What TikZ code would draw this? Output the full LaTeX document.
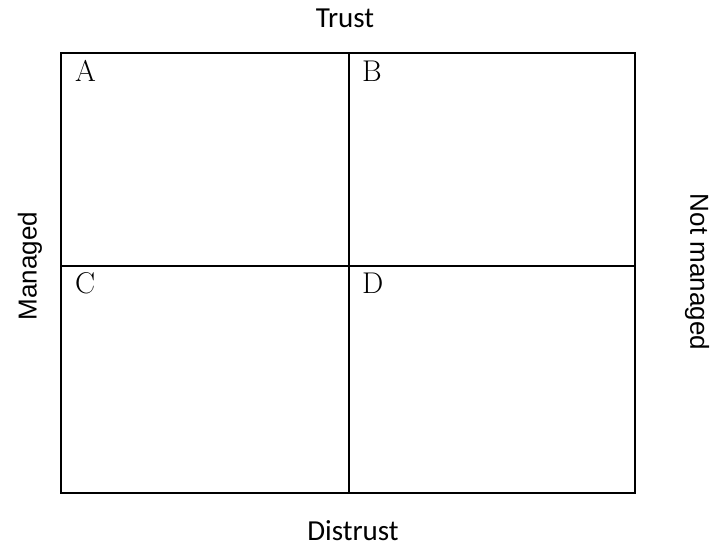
\documentclass[tikz,border=0pt]{standalone}
\usepackage{fontspec}
\newfontfamily\labelfont{Carlito}
\newfontfamily\sidefont{Liberation Sans}
\begin{document}
\begin{tikzpicture}[x=1pt,y=-1pt,
  cell/.style={draw=black,line width=2pt},
  cornerlabel/.style={anchor=base west,inner sep=0pt,font=\fontsize{30}{33}\selectfont},
  axislabel/.style={anchor=base,inner sep=0pt,font=\labelfont\fontsize{29}{32}\selectfont},
  sidelabel/.style={inner sep=0pt,font=\sidefont\fontsize{26}{30}\selectfont}]
\useasboundingbox (0,0) rectangle (713,545);
% four quadrants
\coordinate (tl) at (61,53);
\coordinate (br) at (635,493);
\coordinate (mid) at (349,266);
\draw[cell] (tl) rectangle (br);
\draw[cell] (mid |- tl) -- (mid |- br);
\draw[cell] (tl |- mid) -- (br |- mid);
% quadrant letters
\node[cornerlabel] (A) at (75,82) {A};
\node[cornerlabel] (B) at (362,82) {B};
\node[cornerlabel] (C) at (75,294) {C};
\node[cornerlabel] (D) at (362,294) {D};
% axis labels
\node[axislabel] (trust) at (345,28) {Trust};
\node[axislabel] (distrust) at (353,540) {Distrust};
\node[sidelabel,rotate=90] (managed) at (30,266) {Managed};
\node[sidelabel,rotate=-90] (notmanaged) at (697,272) {Not managed};
\end{tikzpicture}
\end{document}
